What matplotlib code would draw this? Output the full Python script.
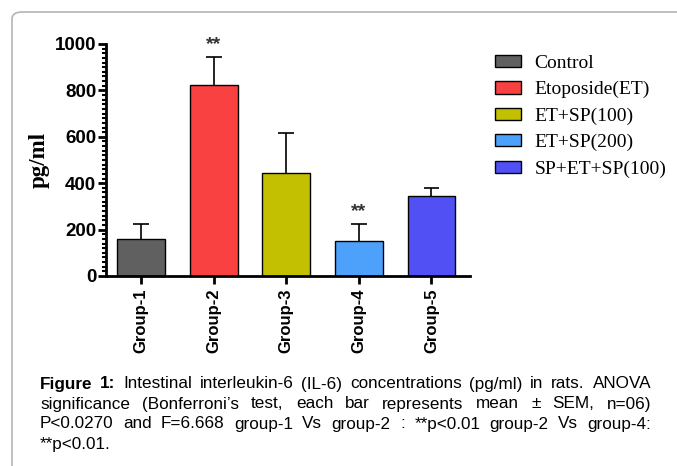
import matplotlib.pyplot as plt
from matplotlib.patches import FancyBboxPatch, Patch
from matplotlib.ticker import MultipleLocator

groups = ['Group-1', 'Group-2', 'Group-3', 'Group-4', 'Group-5']
names = ['Control', 'Etoposide(ET)', 'ET+SP(100)', 'ET+SP(200)', 'SP+ET+SP(100)']
means = [159, 822, 444, 150, 345]
sem = [66, 122, 172, 74, 34]
colors = ['#606060', '#f94141', '#c2c000', '#4ea1fb', '#5050f4']
stars = ['', '**', '', '**', '']

# caption lines: (text, justify?)
cap_lines = [
    ('Figure 1: Intestinal interleukin-6 (IL-6) concentrations (pg/ml) in rats. ANOVA', True),
    ('significance (Bonferroni\u2019s test, each bar represents mean \u00b1 SEM, n=06)', True),
    ('P<0.0270 and F=6.668  group-1 Vs group-2 : **p<0.01  group-2 Vs group-4:', True),
    ('**p<0.01.', False),
]
cap_y = [384, 404, 424, 444]

W, H = 677, 466
fig = plt.figure(figsize=(W / 100, H / 100), dpi=100)

box = FancyBboxPatch((12 / W, -0.1), 1.2, 1 - 12 / H + 0.1,
                     boxstyle='round,pad=0,rounding_size=0.015',
                     transform=fig.transFigure, fc='none', ec='#b5b5b5', lw=1.2)
fig.patches.append(box)

ax = fig.add_axes([106 / W, 1 - 276 / H, 364 / W, 232 / H])
x = list(range(len(groups)))
ax.bar(x, means, width=0.66, color=colors, edgecolor='black', linewidth=1.0, zorder=2)
tops = [m + s for m, s in zip(means, sem)]
ax.vlines(x, means, tops, color='black', lw=1.2, zorder=1)
ax.hlines(tops, [i - 0.11 for i in x], [i + 0.11 for i in x], color='black', lw=1.2, zorder=1)
for i, s in enumerate(stars):
    if s:
        ax.text(i, tops[i] + 18, s, ha='center', va='bottom',
                fontsize=14, fontweight='bold', color='#333333', family='Liberation Sans')

ax.set_xlim(-0.48, 4.53)
ax.set_ylim(0, 1000)
ax.set_xticks(x)
ax.set_xticklabels(groups, rotation=90, fontsize=12, fontweight='bold', family='Liberation Sans')
ax.yaxis.set_major_locator(MultipleLocator(200))
ax.yaxis.set_minor_locator(MultipleLocator(20))
for lab in ax.get_yticklabels():
    lab.set_fontsize(13.5)
    lab.set_fontweight('bold')
    lab.set_family('Liberation Sans')
ax.tick_params(axis='y', which='major', length=6, width=2, pad=1)
ax.tick_params(axis='y', which='minor', length=3, width=1.5)
ax.tick_params(axis='x', length=6, width=2, pad=3)
for sp in ['top', 'right']:
    ax.spines[sp].set_visible(False)
for sp in ['left', 'bottom']:
    ax.spines[sp].set_linewidth(2)
ax.set_ylabel('pg/ml', fontsize=16.5, fontweight='bold', family='Liberation Serif', labelpad=4)

handles = [Patch(facecolor=c, edgecolor='black', linewidth=1) for c in colors]
fig.legend(handles, names, loc='upper left', bbox_to_anchor=(487 / W, 1 - 47 / H),
           frameon=False, prop={'family': 'Liberation Serif', 'size': 14},
           handlelength=1.35, handleheight=0.6, handletextpad=0.7, labelspacing=0.47,
           borderaxespad=0)

# justified caption
renderer = fig.canvas.get_renderer()
left, right = 40, 651
fs = 12.3
for (line, just), yy in zip(cap_lines, cap_y):
    words = line.split()
    items = []
    for j, w in enumerate(words):
        bold = line.startswith('Figure') and j < 2
        t = fig.text(0, 1 - yy / H, w, fontsize=fs, va='center', ha='left',
                     family='Liberation Sans', fontweight='bold' if bold else 'normal')
        items.append(t)
    widths = [t.get_window_extent(renderer).width for t in items]
    if just and len(items) > 1:
        gap = (right - left - sum(widths)) / (len(items) - 1)
    else:
        gap = 3.4
    xp = left
    for t, wd in zip(items, widths):
        t.set_x(xp / W)
        xp += wd + gap

fig.savefig('out.png', dpi=100)
